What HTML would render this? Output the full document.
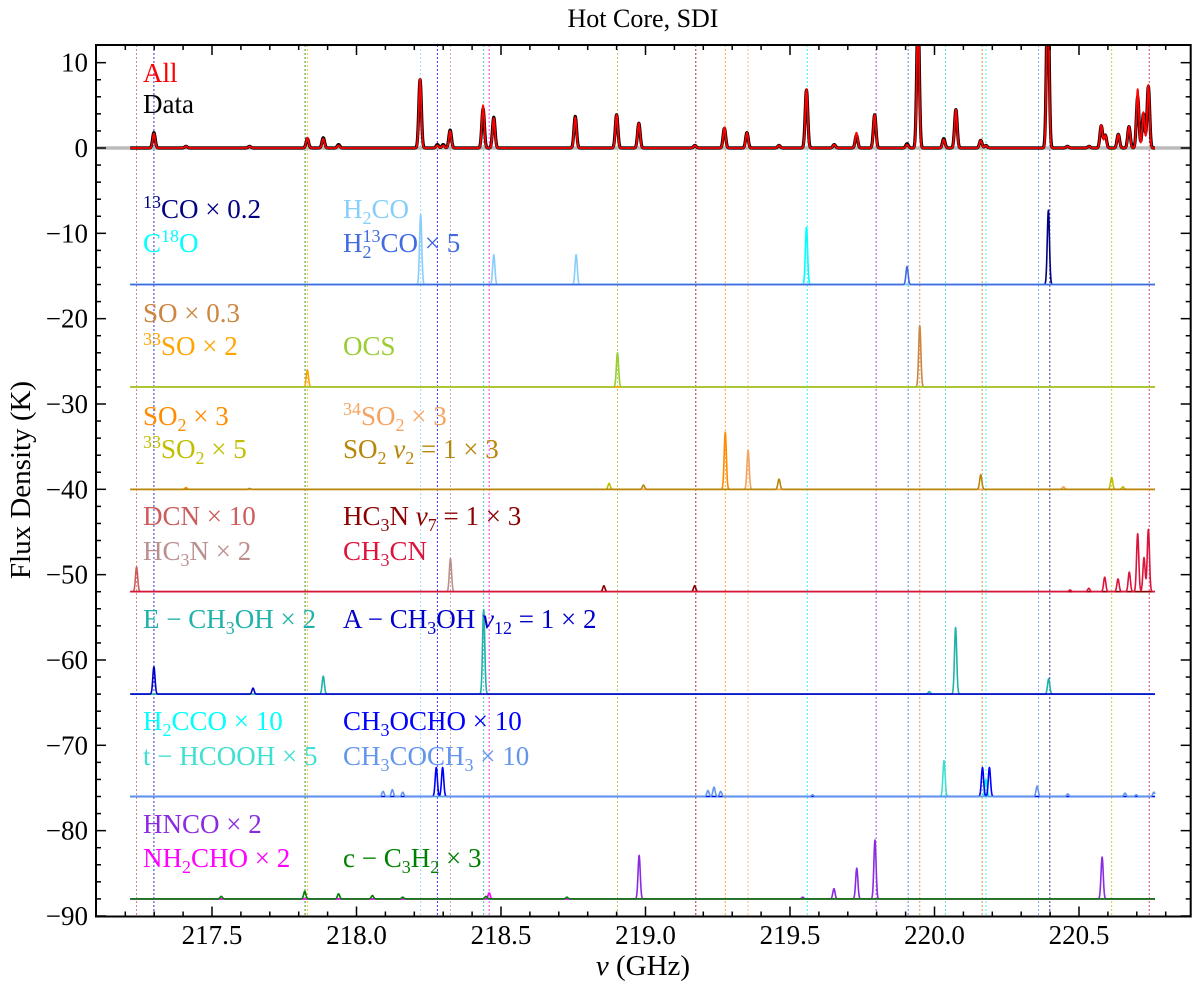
<!DOCTYPE html>
<html><head><meta charset="utf-8">
<style>
html,body{margin:0;padding:0;background:#fff;}
svg{display:block;font-family:"Liberation Serif","DejaVu Serif",serif;}
text,tspan{font-family:"Liberation Serif","DejaVu Serif",serif;}
</style></head>
<body>
<svg id="chart" width="1200" height="983" viewBox="0 0 1200 983" xmlns="http://www.w3.org/2000/svg" font-family="'Liberation Serif', 'DejaVu Serif', serif">
<defs><clipPath id="clip"><rect x="96" y="45" width="1094.7" height="871.5"/></clipPath></defs>
<text x="643" y="27" font-size="26" text-anchor="middle">Hot Core, SDI</text>
<g id="vlines" clip-path="url(#clip)"></g>
<g id="series" clip-path="url(#clip)"></g>
<g id="axes"></g>
<g id="labels" font-size="27"></g>
<text transform="translate(30,480) rotate(-90)" font-size="29" text-anchor="middle">Flux Density (K)</text>
<text x="643" y="975" font-size="29" text-anchor="middle"><tspan font-style="italic">ν</tspan> (GHz)</text>
</svg>
<script>
// ---- data ----
const xTicksMajor = [217.5, 218.0, 218.5, 219.0, 219.5, 220.0, 220.5];
const xTickLabels = ["217.5", "218.0", "218.5", "219.0", "219.5", "220.0", "220.5"];
const yTicksMajor = [10, 0, -10, -20, -30, -40, -50, -60, -70, -80, -90];
const yTickLabels = ["10", "0", "−10", "−20", "−30", "−40", "−50", "−60", "−70", "−80", "−90"];
const rowOffsets = [-16, -28, -40, -52, -64, -76, -88];

const allPeaks = [[217.299,1.7],[217.41,0.2],[217.63,0.2],[217.83,1.2],[217.885,1.1],[217.938,0.3],[218.22,8.1],[218.28,0.3],[218.30,0.3],[218.324,2.0],[218.438,5.0],[218.475,3.5],[218.757,3.6],[218.9,3.9],[218.977,2.9],[219.171,0.3],[219.273,2.4],[219.351,1.8],[219.462,0.3],[219.557,6.9],[219.653,0.4],[219.73,1.8],[219.793,3.9],[219.905,0.4],[219.943,16],[220.032,1.0],[220.074,4.5],[220.16,0.9],[220.178,0.3],[220.392,20],[220.46,0.2],[220.535,0.2],[220.577,2.7],[220.591,1.5],[220.636,1.6],[220.673,2.5],[220.703,6.9],[220.723,4.2],[220.740,7.4]];
const dataPeaks = [[217.299,1.8],[217.41,0.2],[217.63,0.2],[217.83,1.1],[217.885,1.2],[217.938,0.4],[218.22,8.0],[218.28,0.4],[218.30,0.4],[218.324,2.1],[218.438,4.6],[218.475,3.6],[218.757,3.7],[218.9,3.9],[218.977,2.9],[219.171,0.3],[219.273,2.3],[219.351,1.8],[219.462,0.3],[219.557,6.8],[219.653,0.4],[219.73,1.5],[219.793,3.9],[219.905,0.5],[219.943,16],[220.032,1.1],[220.074,4.5],[220.16,0.9],[220.178,0.3],[220.392,20],[220.46,0.2],[220.535,0.2],[220.577,2.6],[220.591,1.5],[220.636,1.6],[220.673,2.5],[220.703,6.0],[220.723,4.0],[220.740,7.2]];

const pk13CO = [[220.394,8.7]];
const pkC18O = [[219.557,6.7]];
const pkH2CO = [[218.222,8.2],[218.475,3.5],[218.760,3.5]];
const pkH213CO = [[219.905,2.1]];
const pkSO = [[219.949,7.2]];
const pk33SO = [[217.830,2.0]];
const pkOCS = [[218.903,4.0]];
const pkSO2 = [[219.276,6.7],[217.41,0.2]];
const pk33SO2 = [[218.874,0.7],[220.613,1.4],[220.652,0.3]];
const pk34SO2 = [[219.355,4.6],[220.446,0.3]];
const pkSO2v2 = [[218.993,0.5],[219.462,1.2],[220.160,1.7],[217.63,0.1]];
const pkDCN = [[217.239,2.9]];
const pkHC3N = [[218.325,3.9]];
const pkHC3Nv7 = [[218.856,0.7],[219.170,0.7]];
const pkCH3CN = [[220.469,0.2],[220.534,0.4],[220.589,1.7],[220.635,1.5],[220.674,2.3],[220.703,6.8],[220.725,4.0],[220.740,7.3]];
const pkECH3OH = [[217.885,2.1],[218.440,9.9],[219.982,0.3],[220.073,7.8],[220.395,1.8]];
const pkACH3OH = [[217.299,3.2],[217.642,0.7]];
const pkH2CCO = [[220.178,2.0]];
const pkTHCOOH = [[220.033,4.2]];
const pkCH3OCHO = [[218.276,3.4],[218.298,3.4],[220.166,3.4],[220.190,3.4]];
const pkCH3COCH3 = [[218.092,0.6],[218.124,0.8],[218.16,0.5],[219.216,0.7],[219.237,1.1],[219.26,0.6],[219.578,0.2],[220.355,1.2],[220.461,0.3],[220.659,0.4],[220.698,0.2],[220.759,0.5]];
const pkHNCO = [[218.978,5.1],[219.544,0.2],[219.652,1.2],[219.731,3.6],[219.794,6.9],[220.580,4.9]];
const pkNH2CHO = [[218.459,0.7]];
const pkC3H2 = [[217.532,0.3],[217.821,0.9],[217.938,0.6],[218.055,0.4],[218.16,0.2],[218.448,0.3],[218.728,0.2]];

const markerFreqs = [217.239,217.299,217.822,217.830,218.222,218.280,218.325,218.440,218.459,218.903,219.174,219.276,219.355,219.560,219.798,219.909,219.949,220.038,220.165,220.178,220.360,220.399,220.613,220.743];
const markerColors = ["#cd5c5c","#0000cd","#008000","#ffa500","#87cefa","#0000ff","#bc8f8f","#20b2aa","#ff00ff","#9acd32","#8b0000","#ff8c00","#f4a460","#00ffff","#8a2be2","#4169e1","#cd853f","#40e0d0","#b8860b","#00ffff","#6495ed","#000080","#bfbf00","#dc143c"];

const species = [
 {name:"13co",row:0,color:"#000080",peaks:pk13CO},
 {name:"c18o",row:0,color:"#00ffff",peaks:pkC18O},
 {name:"h2co",row:0,color:"#87cefa",peaks:pkH2CO},
 {name:"h213co",row:0,color:"#4169e1",peaks:pkH213CO},
 {name:"so",row:1,color:"#cd853f",peaks:pkSO},
 {name:"33so",row:1,color:"#ffa500",peaks:pk33SO},
 {name:"ocs",row:1,color:"#9acd32",peaks:pkOCS},
 {name:"so2",row:2,color:"#ff8c00",peaks:pkSO2},
 {name:"33so2",row:2,color:"#bfbf00",peaks:pk33SO2},
 {name:"34so2",row:2,color:"#f4a460",peaks:pk34SO2},
 {name:"so2-v2",row:2,color:"#b8860b",peaks:pkSO2v2},
 {name:"dcn",row:3,color:"#cd5c5c",peaks:pkDCN},
 {name:"hc3n",row:3,color:"#bc8f8f",peaks:pkHC3N},
 {name:"hc3n-v7",row:3,color:"#8b0000",peaks:pkHC3Nv7},
 {name:"ch3cn",row:3,color:"#dc143c",peaks:pkCH3CN},
 {name:"e-ch3oh",row:4,color:"#20b2aa",peaks:pkECH3OH},
 {name:"a-ch3oh",row:4,color:"#0000cd",peaks:pkACH3OH},
 {name:"h2cco",row:5,color:"#00ffff",peaks:pkH2CCO},
 {name:"t-hcooh",row:5,color:"#40e0d0",peaks:pkTHCOOH},
 {name:"ch3ocho",row:5,color:"#0000ff",peaks:pkCH3OCHO},
 {name:"ch3coch3",row:5,color:"#6495ed",peaks:pkCH3COCH3},
 {name:"hnco",row:6,color:"#8a2be2",peaks:pkHNCO},
 {name:"nh2cho",row:6,color:"#ff00ff",peaks:pkNH2CHO},
 {name:"c-c3h2",row:6,color:"#008000",peaks:pkC3H2}
];

// ---- scales ----
const X0=96, X1=1190.7, Y0=45, Y1=916.5;
function X(f){return 212+(f-217.5)*289;}
function Y(v){return 148-v*8.533;}
const NS="http://www.w3.org/2000/svg";
function mk(tag,attrs,parent){const e=document.createElementNS(NS,tag);for(const k in attrs)e.setAttribute(k,attrs[k]);parent.appendChild(e);return e;}
const FMIN=217.217, FMAX=220.763;
function specPath(peaks,offset,sigma){
  let d="";
  for(let f=FMIN; f<=FMAX+1e-9; f+=0.001){
    let v=offset;
    for(const p of peaks){const dx=(f-p[0])/sigma; if(Math.abs(dx)<6) v+=p[1]*Math.exp(-0.5*dx*dx);}
    d+=(d?"L":"M")+X(f).toFixed(2)+","+Y(v).toFixed(2);
  }
  return d;
}

const vg=document.getElementById('vlines');
markerFreqs.forEach((f,i)=>{
  const l=mk('line',{x1:X(f),x2:X(f),y1:Y0,y2:Y1,stroke:markerColors[i],'stroke-width':1,'stroke-dasharray':'2,2','stroke-opacity':0.8},vg);
  
  
});

const sg=document.getElementById('series');
const zl=mk('line',{x1:X0,x2:X1,y1:Y(0),y2:Y(0),stroke:'#bbbbbb','stroke-width':3.5},sg);


const dp=mk('path',{d:specPath(dataPeaks,0,0.0045),fill:'none',stroke:'#000','stroke-width':3.2,'stroke-linejoin':'round'},sg);


const ap=mk('path',{d:specPath(allPeaks,0,0.0042),fill:'none',stroke:'#ff0000','stroke-width':1.8,'stroke-linejoin':'round'},sg);


species.forEach(s=>{
  const p=mk('path',{d:specPath(s.peaks,rowOffsets[s.row],0.0038),fill:'none',stroke:s.color,'stroke-width':1.6,'stroke-linejoin':'round'},sg);
  
  
});

const ag=document.getElementById('axes');
const fr=mk('rect',{x:X0,y:Y0,width:X1-X0,height:Y1-Y0,fill:'none',stroke:'#000','stroke-width':2},ag);


for(let k=0;k<=40;k++){
  const f=217.1+k*0.1; const x=X(f); if(x<X0+1||x>X1-1) continue;
  const major=Math.abs(f*2-Math.round(f*2))<1e-6; const L=major?10:5;
  mk('line',{x1:x,x2:x,y1:Y1,y2:Y1-L,stroke:'#000','stroke-width':1.5},ag);
  mk('line',{x1:x,x2:x,y1:Y0,y2:Y0+L,stroke:'#000','stroke-width':1.5},ag);
}
for(let v=-90; v<=12; v+=2){
  const y=Y(v); if(y<Y0+1||y>Y1+1) continue;
  const L=(v%10===0)?10:5;
  mk('line',{x1:X0,x2:X0+L,y1:y,y2:y,stroke:'#000','stroke-width':1.5},ag);
  mk('line',{x1:X1,x2:X1-L,y1:y,y2:y,stroke:'#000','stroke-width':1.5},ag);
}
xTicksMajor.forEach((f,i)=>{
  const t=mk('text',{x:X(f),y:944,'font-size':27,'text-anchor':'middle'},ag);
  t.textContent=xTickLabels[i];
  
  
});
yTicksMajor.forEach((v,i)=>{
  const t=mk('text',{x:88,y:Y(v)+9,'font-size':27,'text-anchor':'end'},ag);
  t.textContent=yTickLabels[i];
  
  
});

const lg=document.getElementById('labels');
const labelDefs=[
 [143,82,'#ff0000','All','label-all'],
 [143,113,'#000000','Data','label-data'],
 [143,218,'#000080','<tspan dy="-10" font-size="18">13</tspan><tspan dy="10">CO × 0.2</tspan>','label-13co'],
 [143,252,'#00ffff','C<tspan dy="-10" font-size="18">18</tspan><tspan dy="10">O</tspan>','label-c18o'],
 [343,218,'#87cefa','H<tspan dy="6" font-size="18">2</tspan><tspan dy="-6">CO</tspan>','label-h2co'],
 [343,252,'#4169e1','H<tspan dy="6" font-size="18">2</tspan><tspan dy="-16" dx="-9" font-size="18">13</tspan><tspan dy="10">CO × 5</tspan>','label-h213co'],
 [143,322,'#cd853f','SO × 0.3','label-so'],
 [143,355,'#ffa500','<tspan dy="-10" font-size="18">33</tspan><tspan dy="10">SO × 2</tspan>','label-33so'],
 [343,355,'#9acd32','OCS','label-ocs'],
 [143,425,'#ff8c00','SO<tspan dy="6" font-size="18">2</tspan><tspan dy="-6"> × 3</tspan>','label-so2'],
 [143,458,'#bfbf00','<tspan dy="-10" font-size="18">33</tspan><tspan dy="10">SO</tspan><tspan dy="6" font-size="18">2</tspan><tspan dy="-6"> × 5</tspan>','label-33so2'],
 [343,425,'#f4a460','<tspan dy="-10" font-size="18">34</tspan><tspan dy="10">SO</tspan><tspan dy="6" font-size="18">2</tspan><tspan dy="-6"> × 3</tspan>','label-34so2'],
 [343,458,'#b8860b','SO<tspan dy="6" font-size="18">2</tspan><tspan dy="-6"> </tspan><tspan font-style="italic">v</tspan><tspan dy="6" font-size="18">2</tspan><tspan dy="-6"> = 1 × 3</tspan>','label-so2-v2'],
 [143,525,'#cd5c5c','DCN × 10','label-dcn'],
 [143,560,'#bc8f8f','HC<tspan dy="6" font-size="18">3</tspan><tspan dy="-6">N × 2</tspan>','label-hc3n'],
 [343,525,'#8b0000','HC<tspan dy="6" font-size="18">3</tspan><tspan dy="-6">N </tspan><tspan font-style="italic">v</tspan><tspan dy="6" font-size="18">7</tspan><tspan dy="-6"> = 1 × 3</tspan>','label-hc3n-v7'],
 [343,560,'#dc143c','CH<tspan dy="6" font-size="18">3</tspan><tspan dy="-6">CN</tspan>','label-ch3cn'],
 [143,628,'#20b2aa','E − CH<tspan dy="6" font-size="18">3</tspan><tspan dy="-6">OH × 2</tspan>','label-e-ch3oh'],
 [343,628,'#0000cd','A − CH<tspan dy="6" font-size="18">3</tspan><tspan dy="-6">OH </tspan><tspan font-style="italic">v</tspan><tspan dy="6" font-size="18">12</tspan><tspan dy="-6"> = 1 × 2</tspan>','label-a-ch3oh'],
 [143,730,'#00ffff','H<tspan dy="6" font-size="18">2</tspan><tspan dy="-6">CCO × 10</tspan>','label-h2cco'],
 [143,765,'#40e0d0','t − HCOOH × 5','label-t-hcooh'],
 [343,730,'#0000ff','CH<tspan dy="6" font-size="18">3</tspan><tspan dy="-6">OCHO × 10</tspan>','label-ch3ocho'],
 [343,765,'#6495ed','CH<tspan dy="6" font-size="18">3</tspan><tspan dy="-6">COCH</tspan><tspan dy="6" font-size="18">3</tspan><tspan dy="-6"> × 10</tspan>','label-ch3coch3'],
 [143,833,'#8a2be2','HNCO × 2','label-hnco'],
 [143,867,'#ff00ff','NH<tspan dy="6" font-size="18">2</tspan><tspan dy="-6">CHO × 2</tspan>','label-nh2cho'],
 [343,867,'#008000','c − C<tspan dy="6" font-size="18">3</tspan><tspan dy="-6">H</tspan><tspan dy="6" font-size="18">2</tspan><tspan dy="-6"> × 3</tspan>','label-c-c3h2']
];
labelDefs.forEach(d=>{
  const t=document.createElementNS(NS,'text');
  t.setAttribute('x',d[0]); t.setAttribute('y',d[1]); t.setAttribute('fill',d[2]);
  t.innerHTML=d[3];
  
  
  lg.appendChild(t);
});
</script>
</body></html>
